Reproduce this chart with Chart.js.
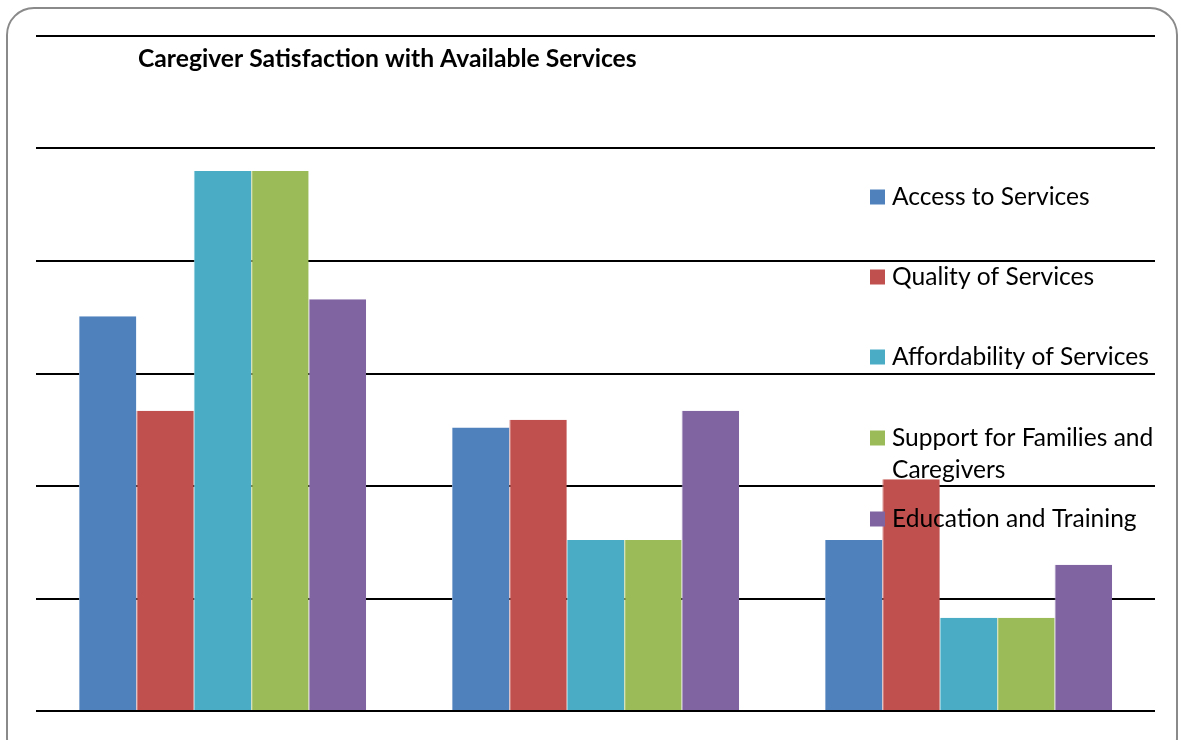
<!DOCTYPE html>
<html>
<head>
<meta charset="utf-8">
<script src="https://cdn.jsdelivr.net/npm/chart.js"></script>
<style>
  html, body { margin: 0; padding: 0; background: #fff; overflow: hidden; }
  #wrap { position: relative; width: 1181px; height: 740px; }
  #frame {
    position: absolute; left: 6px; top: 7px; width: 1172px; height: 760px;
    border: 2px solid #8a8a8a; border-radius: 28px; box-sizing: border-box;
    pointer-events: none;
  }
  canvas { position: absolute; left: 0; top: 0; }
</style>
</head>
<body>
<div id="wrap">
  <canvas id="chart" width="1181" height="740"></canvas>
  <div id="frame"></div>
</div>
<script>
// 軸ラベルは図に表示されていないのでグループ名は仮のもの
const categories = ['Group 1', 'Group 2', 'Group 3'];
const seriesNames = [
  'Access to Services',
  'Quality of Services',
  'Affordability of Services',
  'Support for Families and Caregivers',
  'Education and Training'
];
const access = [35.1, 25.2, 15.2];
const quality = [26.7, 25.9, 20.6];
const affordability = [48, 15.2, 8.3];
const support = [48, 15.2, 8.3];
const education = [36.6, 26.7, 13];
const yTicks = [0, 10, 20, 30, 40, 50, 60];

const colors = ['#4F81BD', '#C0504D', '#4BACC6', '#9BBB59', '#8064A2'];
// 棒の境目に入る薄い線（各色の明るい版）
const seamColors = ['#8aa9d4', '#d68a88', '#8ccbdc', '#c0d497', '#a995c2'];
const seriesValues = [access, quality, affordability, support, education];
const FONT = 'Lato, "Open Sans", sans-serif';

// 凡例の行（折り返し込み）
const legendLines = [
  ['Access to Services'],
  ['Quality of Services'],
  ['Affordability of Services'],
  ['Support for Families and', 'Caregivers'],
  ['Education and Training']
];
const legendRowY = [197, 277, 357, 438, 519];

// 指定幅に合うフォントサイズを求める
function fitSize(ctx, text, weight, target) {
  ctx.font = weight + ' 20px ' + FONT;
  return 20 * target / ctx.measureText(text).width;
}

const overlayPlugin = {
  id: 'overlay',
  afterDatasetsDraw(chart) {
    const ctx = chart.ctx;
    ctx.save();
    // タイトル
    const ts = fitSize(ctx, 'Caregiver Satisfaction with Available Services', 'bold', 499);
    ctx.font = 'bold ' + ts + 'px ' + FONT;
    ctx.fillStyle = '#000';
    ctx.textBaseline = 'middle';
    ctx.fillText('Caregiver Satisfaction with Available Services', 138, 59);

    // 凡例（プロットの上に重ねる）
    const ls = fitSize(ctx, 'Affordability of Services', 'normal', 257);
    ctx.font = ls + 'px ' + FONT;
    legendLines.forEach((lines, i) => {
      const y = legendRowY[i];
      ctx.fillStyle = colors[i];
      ctx.fillRect(870, y - 7.5, 15, 15);
      ctx.fillStyle = '#000';
      lines.forEach((t, j) => ctx.fillText(t, 892, y + j * 32));
    });
    ctx.restore();
  }
};

new Chart(document.getElementById('chart').getContext('2d'), {
  type: 'bar',
  data: {
    labels: categories,
    datasets: seriesValues.map((vals, i) => ({
      label: seriesNames[i],
      data: vals,
      backgroundColor: colors[i],
      borderColor: seamColors[i],
      borderWidth: { left: 1, right: 0, top: 0, bottom: 0 },
      categoryPercentage: 0.77,
      barPercentage: 1.0
    }))
  },
  options: {
    responsive: false,
    animation: false,
    layout: { padding: { left: 36, right: 26, top: 36, bottom: 29 } },
    scales: {
      x: { display: false },
      y: {
        min: 0,
        max: 60,
        afterBuildTicks: (axis) => { axis.ticks = yTicks.map(v => ({ value: v })); },
        ticks: { display: false },
        border: { display: false },
        grid: { color: '#000', lineWidth: 2, drawTicks: false }
      }
    },
    plugins: {
      legend: { display: false },
      title: { display: false },
      tooltip: { enabled: false }
    }
  },
  plugins: [overlayPlugin]
});
</script>
</body>
</html>
